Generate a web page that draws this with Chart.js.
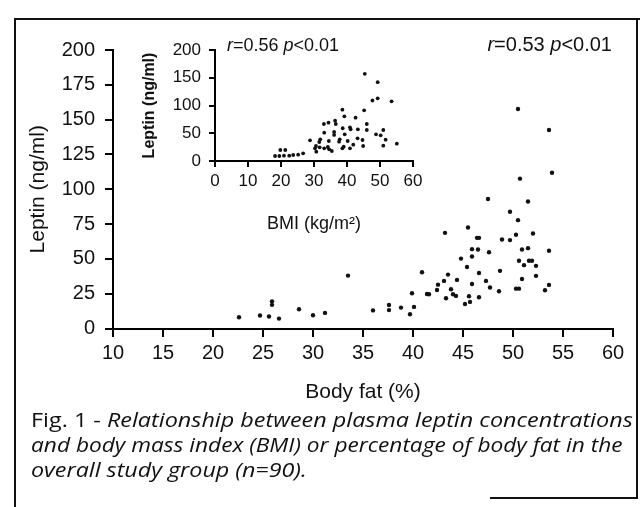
<!DOCTYPE html>
<html>
<head>
<meta charset="utf-8">
<script src="https://cdn.jsdelivr.net/npm/chart.js@4.4.1/dist/chart.umd.min.js"></script>
<style>
  body { margin: 0; background: #fff; }
  #fig { position: relative; width: 640px; height: 507px; background: #fff; }
  .pane { position: absolute; }
  .rule { position: absolute; background: #111; }
  .stat { position: absolute; font-family: 'Liberation Sans'; color: #111; white-space: nowrap; }
  .cap { position: absolute; left: 31px; font-family: 'Open Sans'; font-size: 20px; line-height: 25px;
         white-space: nowrap; transform-origin: 0 0; color: #111; }
</style>
</head>
<body>
<div id="fig">
  <div class="pane" style="left:0;top:0"><canvas id="main" width="640" height="507"></canvas></div>
  <div class="pane" style="left:130px;top:30px"><canvas id="inset" width="300" height="210"></canvas></div>

  <!-- frame of the scanned figure -->
  <div class="rule" style="left:14px;top:18px;width:2px;height:489px"></div>
  <div class="rule" style="left:14px;top:18px;width:626px;height:2px"></div>
  <div class="rule" style="left:636px;top:18px;width:2px;height:481px"></div>
  <div class="rule" style="left:490px;top:497px;width:148px;height:2px"></div>

  <div class="stat" style="right:28px;top:34px;font-size:20px;line-height:20px"><i>r</i>=0.53 <i>p</i>&lt;0.01</div>
  <div class="stat" style="left:227px;top:36px;font-size:18px;line-height:18px"><i>r</i>=0.56 <i>p</i>&lt;0.01</div>

  <div class="cap" data-w="602" style="top:407px">Fig. 1 - <i>Relationship between plasma leptin concentrations</i></div>
  <div class="cap" data-w="592" style="top:432px"><i>and body mass index (BMI) or percentage of body fat in the</i></div>
  <div class="cap" data-w="276" style="top:457px"><i>overall study group (n=90).</i></div>
</div>

<script>
/* main plot: body fat vs leptin */
const bodyFat = [22.6, 24.7, 25.6, 26.6, 25.9, 25.9, 28.6, 30.0, 31.2, 33.5, 36.0, 37.6, 37.6,
  38.8, 40.1, 39.7, 39.9, 40.9, 41.4, 41.6,
  42.4, 42.5, 43.1, 43.2, 43.3, 43.5, 43.8, 44.0, 44.3, 44.4, 44.8,
  45.2, 45.4, 45.5, 45.6, 45.7, 45.9, 45.9, 45.9,
  46.4, 46.6, 46.5, 46.6, 46.6,
  47.3, 47.5, 47.6, 47.7,
  48.6, 48.7, 48.9,
  49.7, 49.7,
  50.3, 50.3, 50.6, 50.5, 50.6, 50.9, 50.9, 50.5, 50.7,
  51.1, 51.5, 51.5, 51.6, 51.9,
  52.0, 52.3, 52.3,
  53.2, 53.6, 53.6, 53.6, 53.9];
const leptinFat = [8.1, 9.3, 8.6, 7.1, 19.5, 17.0, 13.8, 9.5, 11.2, 38.0, 13.0, 16.9, 13.2,
  15.0, 15.5, 10.2, 25.3, 40.4, 24.8, 24.6,
  27.7, 31.5, 34.2, 68.7, 21.7, 38.7, 28.2, 24.6, 23.4, 34.9, 50.2,
  17.6, 44.2, 72.5, 23.2, 19.1, 57.0, 51.7, 32.0,
  65.1, 65.1, 56.7, 39.9, 22.4,
  34.2, 93.0, 54.8, 29.4,
  26.8, 41.4, 63.9,
  83.8, 63.5,
  67.3, 28.6, 28.6, 77.8, 48.6, 56.7, 35.6, 157.6, 107.6,
  45.5, 91.2, 57.7, 48.6, 48.6,
  68.2, 45.0, 37.8,
  27.5, 55.8, 31.3, 142.6, 111.9];

/* inset: BMI vs leptin */
const bmi = [45.4, 49.3, 49.3, 47.7, 53.5, 38.6, 45.2, 39.2, 42.6, 36.4, 36.6, 34.4, 33.0, 46.0,
  40.9, 41.1, 38.7, 43.3, 46.0, 33.1, 36.1, 36.1, 51.0, 39.3, 48.8, 50.2,
  28.8, 31.9, 31.6, 34.5, 37.8, 37.6, 43.2, 44.7, 51.7, 40.2,
  30.3, 30.6, 31.7, 30.7, 33.1, 34.2, 34.6, 35.4, 39.0, 38.6, 40.9, 41.9, 44.9, 51.0, 55.1,
  19.8, 21.3, 18.2, 19.5, 20.9, 22.5, 23.7, 25.2, 26.7];
const leptinBmi = [157, 142, 113, 109, 107.5, 92.5, 91.3, 80.5, 78, 72.6, 66.7, 69, 66.7, 66.7,
  60.7, 57, 59, 57, 55.9, 51, 52.3, 47, 55.9, 48, 48, 46.3,
  37.2, 39, 34.2, 36, 39, 34.8, 40.9, 37.8, 38.4, 36,
  22.8, 27, 24.6, 16.8, 22.8, 25.2, 21, 18, 25.8, 22.8, 22.8, 29.4, 27, 27.6, 31.2,
  19.8, 19.8, 9, 9, 9.6, 9.6, 10.8, 11.4, 13.8];

const fatTicks = [10, 15, 20, 25, 30, 35, 40, 45, 50, 55, 60];
const leptinTicks = [0, 25, 50, 75, 100, 125, 150, 175, 200];
const bmiTicks = [0, 10, 20, 30, 40, 50, 60];
const insetLeptinTicks = [0, 50, 100, 150, 200];

const ink = '#111';
Chart.defaults.font.family = 'Liberation Sans';
Chart.defaults.color = ink;

function pairs(xs, ys) {
  return xs.map((x, i) => ({ x: x, y: ys[i] }));
}

// tick marks only, no grid inside the plot
function tickGrid(len) {
  return { display: true, drawOnChartArea: false, drawTicks: true, tickLength: len,
           color: '#000', tickColor: '#000', lineWidth: 2, tickWidth: 2 };
}

function axis(ticks, fontSize, pad, gridLen, title, titleFont, titlePad, fit) {
  return {
    type: 'linear',
    min: ticks[0],
    max: ticks[ticks.length - 1],
    afterBuildTicks: (s) => { s.ticks = ticks.map(v => ({ value: v })); },
    ticks: { color: ink, font: { size: fontSize }, padding: pad, maxRotation: 0, autoSkip: false },
    grid: tickGrid(gridLen),
    border: { color: '#000', width: 2 },
    title: { display: true, text: title, color: ink, font: titleFont, padding: titlePad },
    afterFit: fit,
  };
}

const mainChart = new Chart(document.getElementById('main'), {
  type: 'scatter',
  data: {
    datasets: [{
      data: pairs(bodyFat, leptinFat),
      backgroundColor: ink,
      borderWidth: 0,
      pointRadius: 2.2,
    }]
  },
  options: {
    responsive: false,
    animation: false,
    devicePixelRatio: 1,
    layout: { padding: { left: 25, top: 50, right: 27, bottom: 100 } },
    plugins: { legend: { display: false }, tooltip: { enabled: false } },
    scales: {
      x: axis(fatTicks, 20, 5, 8, 'Body fat (%)', { size: 21 }, { top: 0, bottom: 2 }, (s) => { s.height = 78.5; }),
      y: axis(leptinTicks, 20, 10, 8, 'Leptin (ng/ml)', { size: 21 }, { top: 1, bottom: 0 }, (s) => { s.width = 88; }),
    }
  }
});

const insetChart = new Chart(document.getElementById('inset'), {
  type: 'scatter',
  data: {
    datasets: [{
      data: pairs(bmi, leptinBmi),
      backgroundColor: ink,
      borderWidth: 0,
      pointRadius: 1.9,
    }]
  },
  options: {
    responsive: false,
    animation: false,
    devicePixelRatio: 1,
    layout: { padding: { left: 10, top: 20, right: 17, bottom: 5 } },
    plugins: { legend: { display: false }, tooltip: { enabled: false } },
    scales: {
      x: axis(bmiTicks, 17, 4, 6, 'BMI (kg/m²)', { size: 18 }, { top: 0, bottom: 0 }, (s) => { s.height = 74; }),
      y: axis(insetLeptinTicks, 17, 8, 6, 'Leptin (ng/ml)', { size: 16, weight: 'bold' }, { top: 0, bottom: 0 }, (s) => { s.width = 75; }),
    }
  }
});

/* axis lines and tick marks as page rules, placed from the charts' own scales */
const fig = document.getElementById('fig');
function rule(left, top, w, h) {
  const d = document.createElement('div');
  d.className = 'rule';
  d.style.cssText = 'left:' + left + 'px;top:' + top + 'px;width:' + w + 'px;height:' + h + 'px;background:#000';
  fig.appendChild(d);
}
function axisRules(chart, ox, oy, len) {
  const a = chart.chartArea;
  const x = chart.scales.x, y = chart.scales.y;
  const band = (p) => Math.round(p - 1);
  rule(ox + band(a.left), oy + band(a.bottom), a.right - a.left + 2, 2);
  rule(ox + band(a.left), oy + band(a.top), 2, a.bottom - a.top + 2);
  x.ticks.forEach(t => rule(ox + band(x.getPixelForValue(t.value)), oy + band(a.bottom), 2, len + 1));
  y.ticks.forEach(t => rule(ox + band(a.left) - len + 1, oy + band(y.getPixelForValue(t.value)), len + 1, 2));
}
axisRules(mainChart, 0, 0, 8);
axisRules(insetChart, 130, 30, 6);

/* stretch caption lines to the width they take in the scan */
document.querySelectorAll('.cap').forEach(el => {
  const k = (+el.dataset.w) / el.offsetWidth;
  el.style.transform = 'scaleX(' + k + ')';
});
</script>
</body>
</html>
